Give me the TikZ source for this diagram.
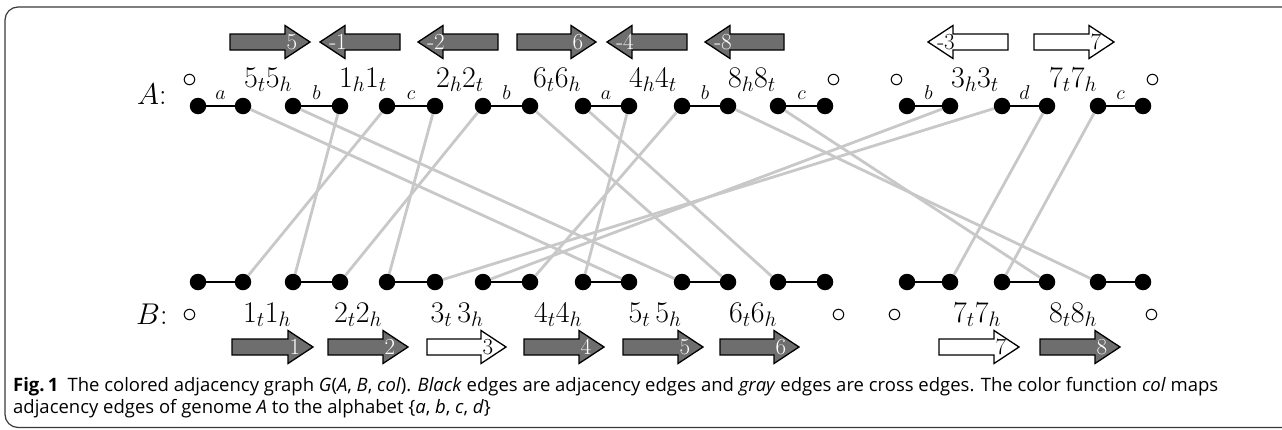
\RequirePackage{fix-cm}
\documentclass[tikz,border=0pt]{standalone}
\usepackage{fontspec}
\newfontfamily\capfont{Open Sans}
\definecolor{crossgray}{HTML}{C8C8C8}
\definecolor{genegray}{HTML}{6E6E6E}
\definecolor{capgray}{HTML}{231F20}
\definecolor{framecol}{HTML}{3A3A3A}
\newcommand\genearr[7]{%
  \pgfmathsetmacro\gd{(#3>#2) ? 1 : -1}%
  \pgfmathsetmacro\gn{#3-25*\gd}%
  \pgfmathsetmacro\gl{#3-18*\gd}%
  \draw[genebox,fill=#5] (#2,#4-8) -- (\gn,#4-8) -- (\gn,#4-16.5) -- (#3,#4) -- (\gn,#4+16.5) -- (\gn,#4+8) -- (#2,#4+8) -- cycle;
  \node[numlabel,text=#6] (#1) at (\gl,#4) {#7};
}
\newcommand\capsize{\fontsize{16pt}{22pt}\selectfont}
\newcommand\glsize{\fontsize{30pt}{34pt}\selectfont}
\newcommand\elsize{\fontsize{20pt}{24pt}\selectfont}
\newcommand\nlsize{\fontsize{23pt}{26pt}\selectfont}
\newsavebox\capboxA
\newsavebox\capboxB
\newlength\capwd
\newlength\capwdB
\begin{document}
\sbox\capboxA{\capfont\capsize\textbf{Fig.\,1}\enspace The colored adjacency graph \textit{G}(\textit{A}, \textit{B}, \textit{col}). \textit{Black} edges are adjacency edges and \textit{gray} edges are cross edges. The color function \textit{col} maps}%
\sbox\capboxB{\capfont\capsize adjacency edges of genome \textit{A} to the alphabet \{\textit{a}, \textit{b}, \textit{c}, \textit{d}\}}%
\setlength\capwd{\wd\capboxA}%
\setlength\capwdB{\wd\capboxB}%
\pgfmathsetmacro\capratio{\capwdB/\capwd}%
\pgfmathsetlength\capwdB{1205*\capratio}%
\begin{tikzpicture}[x=1pt,y=-1pt,
  dot/.style={circle,fill=black,inner sep=0pt,minimum size=16.5pt},
  adj/.style={line width=2.2pt,draw=black},
  cross/.style={line width=2.8pt,draw=crossgray},
  glabel/.style={font=\glsize,anchor=base,inner sep=0pt},
  elabel/.style={font=\elsize,anchor=base,inner sep=0pt},
  genebox/.style={draw=black,line width=1.3pt,line join=miter},
  numlabel/.style={font=\nlsize,inner sep=0pt},
  captext/.style={anchor=base west,inner sep=0pt,text=capgray}]
\useasboundingbox (0,0) rectangle (1282,429);
% frame
\draw[framecol,line width=1.2pt,rounded corners=13pt] (1290,7) -- (5,7) -- (5,427.5) -- (1290,427.5);
% dots
\foreach \x [count=\i] in {198,243,293,340,387,435,483,530,583,629,682,728,778,825,907,950,1002,1047,1098,1143}{
  \node[dot] (A\i) at (\x,106) {};
  \node[dot] (B\i) at (\x,282) {};
}
% cross edges
\foreach \a/\b in {2/10,3/11,4/3,5/2,6/5,7/4,8/12,9/13,10/9,11/8,12/19,13/18,16/7,17/6,18/16,19/17}{
  \draw[cross] (A\a) -- (B\b);
}
% adjacency edges
\foreach \i in {1,3,...,19}{
  \pgfmathtruncatemacro\j{\i+1}
  \draw[adj] (A\i) -- (A\j);
  \draw[adj] (B\i) -- (B\j);
}
% edge colours
\foreach \x/\c [count=\i] in {220.5/a,316.5/b,411/c,506.5/b,606/a,705/b,801.5/c,928.5/b,1024.5/d,1120.5/c}{
  \node[elabel] (e\i) at (\x,99) {$\c$};
}
% genome labels
\node[glabel,anchor=base west] (Alab) at (137,104) {$A$:};
\node[glabel,anchor=base west] (Blab) at (136,324) {$B$:};
\node[glabel] (ta1) at (190,87) {$\circ$};
\node[glabel] (ta2) at (268,87) {$5_t5_h$};
\node[glabel] (ta3) at (363,87) {$1_h1_t$};
\node[glabel] (ta4) at (460,87) {$2_h2_t$};
\node[glabel] (ta5) at (557,87) {$6_t6_h$};
\node[glabel] (ta6) at (653,87) {$4_h4_t$};
\node[glabel] (ta7) at (752,87) {$8_h8_t$};
\node[glabel] (ta8) at (834,87) {$\circ$};
\node[glabel] (ta9) at (897,87) {$\circ$};
\node[glabel] (ta10) at (975,87) {$3_h3_t$};
\node[glabel] (ta11) at (1073,87) {$7_t7_h$};
\node[glabel] (ta12) at (1153,87) {$\circ$};
\node[glabel] (tb1) at (190,322) {$\circ$};
\node[glabel] (tb2) at (267,322) {$1_t1_h$};
\node[glabel] (tb3) at (358,322) {$2_t2_h$};
\node[glabel] (tb4) at (457,322) {$3_t\,3_h$};
\node[glabel] (tb5) at (558,322) {$4_t4_h$};
\node[glabel] (tb6) at (655,322) {$5_t\,5_h$};
\node[glabel] (tb7) at (753,322) {$6_t6_h$};
\node[glabel] (tb8) at (839,322) {$\circ$};
\node[glabel] (tb9) at (895,322) {$\circ$};
\node[glabel] (tb10) at (977,322) {$7_t7_h$};
\node[glabel] (tb11) at (1073,322) {$8_t8_h$};
\node[glabel] (tb12) at (1152,322) {$\circ$};
% genes of A
\genearr{ga1}{230}{310}{42}{genegray}{white}{5}
\genearr{ga2}{400}{320}{42}{genegray}{white}{-1}
\genearr{ga3}{498}{418}{42}{genegray}{white}{-2}
\genearr{ga4}{517}{596}{42}{genegray}{white}{6}
\genearr{ga5}{687}{607}{42}{genegray}{white}{-4}
\genearr{ga6}{784}{705}{42}{genegray}{white}{-8}
\genearr{ga7}{1008}{928}{42}{white}{black}{-3}
\genearr{ga8}{1034}{1114}{42}{white}{black}{7}
% genes of B
\genearr{gb1}{232}{313}{347}{genegray}{white}{1}
\genearr{gb2}{328}{408}{347}{genegray}{white}{2}
\genearr{gb3}{427}{506}{347}{white}{black}{3}
\genearr{gb4}{524}{604}{347}{genegray}{white}{4}
\genearr{gb5}{623}{703}{347}{genegray}{white}{5}
\genearr{gb6}{720}{799}{347}{genegray}{white}{6}
\genearr{gb7}{939}{1019}{347}{white}{black}{7}
\genearr{gb8}{1040}{1120}{347}{genegray}{white}{8}
% caption, stretched so that its first line is as wide as in the figure
\node[captext] (cap1) at (13,391) {\resizebox{1205pt}{!}{\usebox\capboxA}};
\node[captext] (cap2) at (13,413) {\resizebox{\capwdB}{!}{\usebox\capboxB}};
\end{tikzpicture}
\end{document}
